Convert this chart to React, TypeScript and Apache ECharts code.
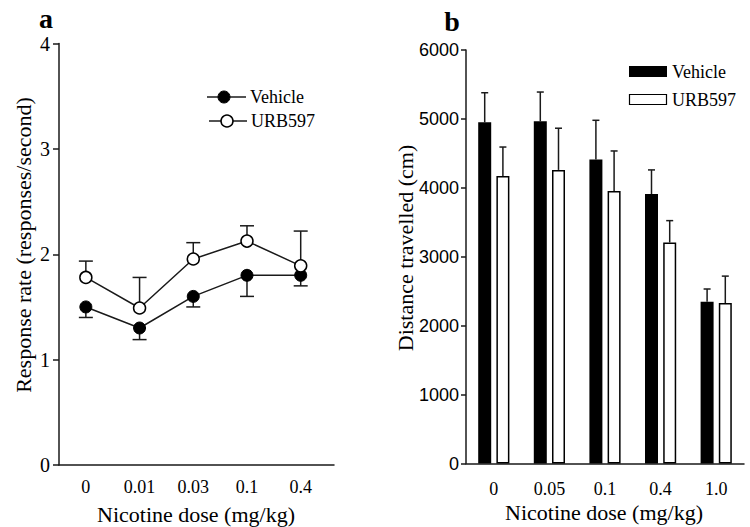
import React, { useEffect, useRef } from "react";
import * as echarts from "echarts";

// Panel a: response rate
const doseA = ["0", "0.01", "0.03", "0.1", "0.4"];
const vehicleA = [1.5, 1.3, 1.6, 1.8, 1.8];
const vehicleAErr = [0.1, 0.11, 0.1, 0.2, 0.1];
const urbA = [1.78, 1.49, 1.955, 2.125, 1.89];
const urbAErr = [0.155, 0.29, 0.155, 0.145, 0.33];
const yTicksA = [0, 1, 2, 3, 4];

// Panel b: distance travelled
const doseB = ["0", "0.05", "0.1", "0.4", "1.0"];
const vehicleB = [4950, 4965, 4410, 3910, 2348];
const vehicleBErr = [430, 425, 570, 350, 184];
const urbB = [4172, 4260, 3955, 3207, 2329];
const urbBErr = [420, 605, 580, 317, 390];
const yTicksB = [0, 1000, 2000, 3000, 4000, 5000, 6000];

const SERIF = '"Liberation Serif", "Times New Roman", serif';
const SANS = '"Liberation Sans", Arial, sans-serif';
const INK = "#1a1a1a";

const BAR_W = 13;
const BAR_GAP = 0.4;

export default function App() {
  const ref = useRef<HTMLDivElement>(null);

  useEffect(() => {
    if (!ref.current) return;
    const chart = echarts.init(ref.current, undefined, { renderer: "svg" });

    const errA = (hw: number) => (params: any, api: any) => {
      const x = api.value(0);
      const y = api.value(1);
      const e = api.value(2);
      const p1 = api.coord([x, y]);
      const p2 = api.coord([x, e]);
      const st = { stroke: INK, lineWidth: 1.5 };
      return {
        type: "group",
        children: [
          { type: "line", shape: { x1: p1[0], y1: p1[1], x2: p2[0], y2: p2[1] }, style: st },
          { type: "line", shape: { x1: p2[0] - hw, y1: p2[1], x2: p2[0] + hw, y2: p2[1] }, style: st },
        ],
      };
    };

    const errB = (side: number) => (params: any, api: any) => {
      const i = api.value(0);
      const y = api.value(1);
      const e = api.value(2);
      const off = side * (BAR_W / 2 + (BAR_W * BAR_GAP) / 2);
      const p1 = api.coord([i, y]);
      const p2 = api.coord([i, e]);
      const x = p1[0] + off;
      const hw = 3.5;
      const st = { stroke: INK, lineWidth: 1.5 };
      return {
        type: "group",
        children: [
          { type: "line", shape: { x1: x, y1: p1[1], x2: x, y2: p2[1] }, style: st },
          { type: "line", shape: { x1: x - hw, y1: p2[1], x2: x + hw, y2: p2[1] }, style: st },
        ],
      };
    };

    const axisLine = { show: true, onZero: false, lineStyle: { color: INK, width: 1.5 } };

    const option: any = {
      animation: false,
      backgroundColor: "#fff",
      grid: [
        { left: 59, top: 43.5, width: 275, height: 421.5 },
        { left: 466, top: 50, width: 278, height: 413.5 },
      ],
      xAxis: [
        {
          type: "value",
          gridIndex: 0,
          min: -0.5,
          max: 4.62,
          interval: 0.5,
          axisLine,
          axisTick: { show: false },
          splitLine: { show: false },
          axisLabel: {
            margin: 13,
            color: "#000",
            fontFamily: SERIF,
            fontSize: 18,
            showMinLabel: false,
            showMaxLabel: false,
            formatter: (v: number) => {
              const r = Math.round(v);
              if (Math.abs(v - r) < 1e-6 && r >= 0 && r < doseA.length) return doseA[r];
              return "";
            },
          },
        },
        {
          type: "category",
          gridIndex: 1,
          data: doseB,
          axisLine,
          axisTick: { show: false },
          splitLine: { show: false },
          axisLabel: { margin: 16, color: "#000", fontFamily: SERIF, fontSize: 18 },
        },
      ],
      yAxis: [
        {
          type: "value",
          gridIndex: 0,
          min: yTicksA[0],
          max: yTicksA[yTicksA.length - 1],
          interval: 1,
          axisLine,
          axisTick: { show: true, length: 6, lineStyle: { color: INK, width: 1.5 } },
          splitLine: { show: false },
          axisLabel: { margin: 9, color: "#000", fontFamily: SERIF, fontSize: 20, formatter: (v: number) => String(v) },
        },
        {
          type: "value",
          gridIndex: 1,
          min: yTicksB[0],
          max: yTicksB[yTicksB.length - 1],
          interval: 1000,
          axisLine,
          axisTick: { show: true, length: 5, lineStyle: { color: INK, width: 1.5 } },
          splitLine: { show: false },
          axisLabel: { margin: 7, color: "#000", fontFamily: SANS, fontSize: 18, formatter: (v: number) => String(v) },
        },
      ],
      series: [
        {
          type: "custom",
          name: "VehicleErrA",
          xAxisIndex: 0,
          yAxisIndex: 0,
          z: 1,
          renderItem: errA(7),
          encode: { x: 0, y: 1 },
          data: vehicleA.map((v, i) => [i, v, v - vehicleAErr[i]]),
        },
        {
          type: "custom",
          name: "URBErrA",
          xAxisIndex: 0,
          yAxisIndex: 0,
          z: 1,
          renderItem: errA(7),
          encode: { x: 0, y: 1 },
          data: urbA.map((v, i) => [i, v, v + urbAErr[i]]),
        },
        {
          type: "line",
          name: "Vehicle",
          xAxisIndex: 0,
          yAxisIndex: 0,
          z: 3,
          symbol: "circle",
          symbolSize: 12,
          lineStyle: { color: INK, width: 1.5 },
          itemStyle: { color: "#000", borderColor: "#000", borderWidth: 1 },
          data: vehicleA.map((v, i) => [i, v]),
        },
        {
          type: "line",
          name: "URB597",
          xAxisIndex: 0,
          yAxisIndex: 0,
          z: 3,
          symbol: "circle",
          symbolSize: 12,
          showAllSymbol: true,
          lineStyle: { color: INK, width: 1.5 },
          itemStyle: { color: "#fff", borderColor: "#000", borderWidth: 1.5 },
          data: urbA.map((v, i) => [i, v]),
        },
        {
          type: "bar",
          name: "Vehicle",
          xAxisIndex: 1,
          yAxisIndex: 1,
          barWidth: BAR_W,
          barGap: BAR_GAP * 100 + "%",
          itemStyle: { color: "#000" },
          data: vehicleB,
        },
        {
          type: "bar",
          name: "URB597",
          xAxisIndex: 1,
          yAxisIndex: 1,
          barWidth: BAR_W,
          barGap: BAR_GAP * 100 + "%",
          itemStyle: { color: "#fff", borderColor: "#000", borderWidth: 1.5 },
          data: urbB,
        },
        {
          type: "custom",
          name: "VehicleErrB",
          xAxisIndex: 1,
          yAxisIndex: 1,
          z: 4,
          renderItem: errB(-1),
          encode: { x: 0, y: 1 },
          data: vehicleB.map((v, i) => [i, v, v + vehicleBErr[i]]),
        },
        {
          type: "custom",
          name: "URBErrB",
          xAxisIndex: 1,
          yAxisIndex: 1,
          z: 4,
          renderItem: errB(1),
          encode: { x: 0, y: 1 },
          data: urbB.map((v, i) => [i, v, v + urbBErr[i]]),
        },
      ],
      graphic: [
        // panel letters
        { type: "text", x: 46, y: 18, style: { text: "a", font: `bold 28px ${SERIF}`, fill: "#000", textAlign: "center", textVerticalAlign: "middle" } },
        { type: "text", x: 452, y: 21, style: { text: "b", font: `bold 28px ${SERIF}`, fill: "#000", textAlign: "center", textVerticalAlign: "middle" } },
        // axis titles
        { type: "text", x: 196, y: 514, style: { text: "Nicotine dose (mg/kg)", font: `22px ${SERIF}`, fill: "#000", textAlign: "center", textVerticalAlign: "middle" } },
        { type: "text", x: 604, y: 512, style: { text: "Nicotine dose (mg/kg)", font: `22px ${SERIF}`, fill: "#000", textAlign: "center", textVerticalAlign: "middle" } },
        { type: "text", x: 23, y: 245, rotation: Math.PI / 2, style: { text: "Response rate (responses/second)", font: `22px ${SERIF}`, fill: "#000", textAlign: "center", textVerticalAlign: "middle" } },
        { type: "text", x: 405, y: 248, rotation: Math.PI / 2, style: { text: "Distance travelled (cm)", font: `22px ${SERIF}`, fill: "#000", textAlign: "center", textVerticalAlign: "middle" } },
        // legend a
        { type: "line", shape: { x1: 207, y1: 97, x2: 246, y2: 97 }, style: { stroke: INK, lineWidth: 1.5 } },
        { type: "circle", shape: { cx: 224, cy: 97, r: 6 }, style: { fill: "#000", stroke: "#000", lineWidth: 1 } },
        { type: "text", x: 250, y: 97, style: { text: "Vehicle", font: `18px ${SERIF}`, fill: "#000", textAlign: "left", textVerticalAlign: "middle" } },
        { type: "line", shape: { x1: 209, y1: 121, x2: 247, y2: 121 }, style: { stroke: INK, lineWidth: 1.5 } },
        { type: "circle", shape: { cx: 227, cy: 121, r: 6 }, style: { fill: "#fff", stroke: "#000", lineWidth: 1.5 } },
        { type: "text", x: 251, y: 121, style: { text: "URB597", font: `18px ${SERIF}`, fill: "#000", textAlign: "left", textVerticalAlign: "middle" } },
        // legend b
        { type: "rect", shape: { x: 629, y: 66, width: 38, height: 11 }, style: { fill: "#000" } },
        { type: "text", x: 672, y: 72, style: { text: "Vehicle", font: `18px ${SERIF}`, fill: "#000", textAlign: "left", textVerticalAlign: "middle" } },
        { type: "rect", shape: { x: 629.5, y: 94.5, width: 37, height: 10 }, style: { fill: "#fff", stroke: "#000", lineWidth: 1.2 } },
        { type: "text", x: 672, y: 100, style: { text: "URB597", font: `18px ${SERIF}`, fill: "#000", textAlign: "left", textVerticalAlign: "middle" } },
      ],
    };

    chart.setOption(option);
    return () => chart.dispose();
  }, []);

  return (
    <div
      ref={ref}
      style={{ position: "absolute", left: 0, top: 0, width: 750, height: 527, background: "#fff" }}
    />
  );
}
